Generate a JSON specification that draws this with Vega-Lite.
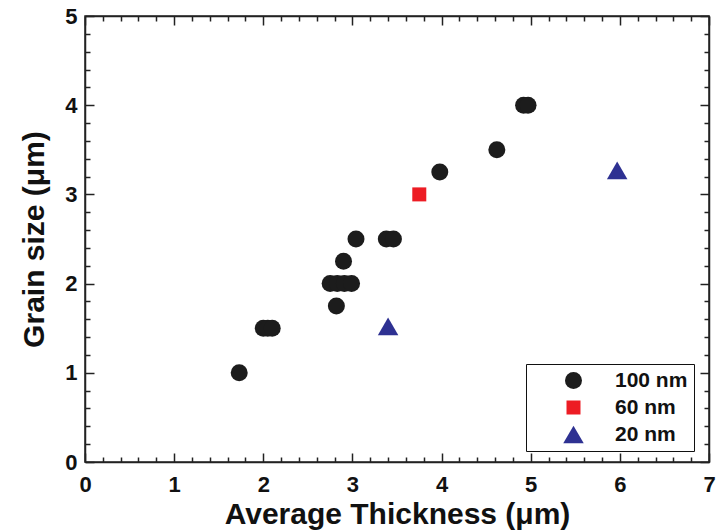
{
  "$schema": "https://vega.github.io/schema/vega-lite/v6.json",
  "width": 624,
  "height": 446,
  "autosize": {"type": "none"},
  "padding": {"left": 85, "top": 16, "right": 11, "bottom": 70},
  "background": "white",
  "config": {"view": {"stroke": "#222", "strokeWidth": 1.5}, "font": "Liberation Sans"},
  "data": {"values": [
    {"thickness": 1.73, "grain": 1.0, "film": "100 nm"},
    {"thickness": 2.0, "grain": 1.5, "film": "100 nm"},
    {"thickness": 2.05, "grain": 1.5, "film": "100 nm"},
    {"thickness": 2.1, "grain": 1.5, "film": "100 nm"},
    {"thickness": 2.75, "grain": 2.0, "film": "100 nm"},
    {"thickness": 2.83, "grain": 2.0, "film": "100 nm"},
    {"thickness": 2.91, "grain": 2.0, "film": "100 nm"},
    {"thickness": 2.99, "grain": 2.0, "film": "100 nm"},
    {"thickness": 2.82, "grain": 1.75, "film": "100 nm"},
    {"thickness": 2.9, "grain": 2.25, "film": "100 nm"},
    {"thickness": 3.04, "grain": 2.5, "film": "100 nm"},
    {"thickness": 3.38, "grain": 2.5, "film": "100 nm"},
    {"thickness": 3.46, "grain": 2.5, "film": "100 nm"},
    {"thickness": 3.98, "grain": 3.25, "film": "100 nm"},
    {"thickness": 4.62, "grain": 3.5, "film": "100 nm"},
    {"thickness": 4.92, "grain": 4.0, "film": "100 nm"},
    {"thickness": 4.97, "grain": 4.0, "film": "100 nm"},
    {"thickness": 3.75, "grain": 3.0, "film": "60 nm"},
    {"thickness": 3.4, "grain": 1.52, "film": "20 nm"},
    {"thickness": 5.97, "grain": 3.27, "film": "20 nm"}
  ]},
  "layer": [
    {
      "mark": {"type": "point", "filled": true, "opacity": 1},
      "encoding": {
        "x": {
          "field": "thickness", "type": "quantitative",
          "scale": {"domain": [0, 7], "nice": false, "zero": false},
          "axis": {
            "orient": "bottom",
            "values": [0,0.2,0.4,0.6,0.8,1,1.2,1.4,1.6,1.8,2,2.2,2.4,2.6,2.8,3,3.2,3.4,3.6,3.8,4,4.2,4.4,4.6,4.8,5,5.2,5.4,5.6,5.8,6,6.2,6.4,6.6,6.8,7],
            "labelExpr": "abs(datum.value - round(datum.value)) < 0.001 ? format(datum.value, 'd') : ''",
            "tickSize": {"condition": {"test": "abs(datum.value - round(datum.value)) < 0.001", "value": -9}, "value": -5},
            "tickWidth": 1.5, "tickColor": "#222",
            "domainColor": "#222", "domainWidth": 1.5,
            "grid": false,
            "labelFontSize": 22, "labelFontWeight": "bold", "labelColor": "#111",
            "labelPadding": 21, "labelFlush": false, "labelOverlap": false,
            "title": "Average Thickness (μm)",
            "titleFontSize": 30, "titleFontWeight": "bold", "titleColor": "#111",
            "titlePadding": 0
          }
        },
        "y": {
          "field": "grain", "type": "quantitative",
          "scale": {"domain": [0, 5], "nice": false, "zero": false},
          "axis": {
            "orient": "left",
            "values": [0,0.2,0.4,0.6,0.8,1,1.2,1.4,1.6,1.8,2,2.2,2.4,2.6,2.8,3,3.2,3.4,3.6,3.8,4,4.2,4.4,4.6,4.8,5],
            "labelExpr": "abs(datum.value - round(datum.value)) < 0.001 ? format(datum.value, 'd') : ''",
            "tickSize": {"condition": {"test": "abs(datum.value - round(datum.value)) < 0.001", "value": -9}, "value": -5},
            "tickWidth": 1.5, "tickColor": "#222",
            "domainColor": "#222", "domainWidth": 1.5,
            "grid": false,
            "labelFontSize": 22, "labelFontWeight": "bold", "labelColor": "#111",
            "labelPadding": 17, "labelFlush": false, "labelOverlap": false,
            "title": "Grain size (μm)",
            "titleFontSize": 30, "titleFontWeight": "bold", "titleColor": "#111",
            "titlePadding": 15
          }
        },
        "color": {
          "field": "film", "type": "nominal",
          "scale": {"domain": ["100 nm", "60 nm", "20 nm"], "range": ["#1c1c1c", "#ed1c24", "#2e3192"]},
          "legend": {
            "title": null, "orient": "none", "legendX": 441, "legendY": 348,
            "padding": 6, "fillColor": "white", "strokeColor": "#111",
            "labelFont": "Liberation Sans", "labelFontWeight": "bold", "labelFontSize": 21, "labelColor": "#111",
            "symbolOffset": 31, "labelOffset": 31, "rowPadding": 5, "symbolStrokeWidth": 0
          }
        },
        "shape": {
          "field": "film", "type": "nominal",
          "scale": {"domain": ["100 nm", "60 nm", "20 nm"], "range": ["circle", "square", "triangle-up"]}
        },
        "size": {
          "field": "film", "type": "nominal",
          "scale": {"type": "ordinal", "domain": ["100 nm", "60 nm", "20 nm"], "range": [289, 196, 420]}
        }
      }
    },
    {
      "mark": {"type": "point", "opacity": 0},
      "encoding": {
        "x": {
          "field": "thickness", "type": "quantitative",
          "axis": {
            "orient": "top",
            "values": [0,0.2,0.4,0.6,0.8,1,1.2,1.4,1.6,1.8,2,2.2,2.4,2.6,2.8,3,3.2,3.4,3.6,3.8,4,4.2,4.4,4.6,4.8,5,5.2,5.4,5.6,5.8,6,6.2,6.4,6.6,6.8,7],
            "labels": false, "title": null, "grid": false,
            "tickSize": {"condition": {"test": "abs(datum.value - round(datum.value)) < 0.001", "value": -9}, "value": -5},
            "tickWidth": 1.5, "tickColor": "#222",
            "domainColor": "#222", "domainWidth": 1.5
          }
        },
        "y": {
          "field": "grain", "type": "quantitative",
          "axis": {
            "orient": "right",
            "values": [0,0.2,0.4,0.6,0.8,1,1.2,1.4,1.6,1.8,2,2.2,2.4,2.6,2.8,3,3.2,3.4,3.6,3.8,4,4.2,4.4,4.6,4.8,5],
            "labels": false, "title": null, "grid": false,
            "tickSize": {"condition": {"test": "abs(datum.value - round(datum.value)) < 0.001", "value": -9}, "value": -5},
            "tickWidth": 1.5, "tickColor": "#222",
            "domainColor": "#222", "domainWidth": 1.5
          }
        }
      }
    }
  ],
  "resolve": {"axis": {"x": "independent", "y": "independent"}}
}
